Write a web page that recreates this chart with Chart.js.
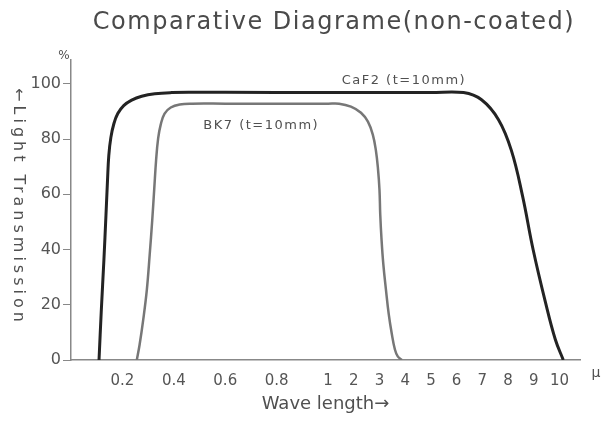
<!DOCTYPE html>
<html>
<head>
<meta charset="utf-8">
<script src="https://cdn.jsdelivr.net/npm/chart.js@4.4.0/dist/chart.umd.min.js"></script>
<style>
  html, body { margin: 0; padding: 0; background: #fff; }
  #wrap { width: 602px; height: 421px; }
</style>
</head>
<body>
<div id="wrap"><canvas id="chart" width="602" height="421"></canvas></div>
<script>
// wavelength in micrometres, transmission in %
const caf2Wave = [0.109, 0.118, 0.128, 0.136, 0.142, 0.147, 0.155, 0.167, 0.182, 0.205, 0.236, 0.275, 0.326, 0.392, 0.48, 0.6, 1, 3, 5,
  6.27, 6.97, 7.63, 8.13, 8.56, 8.98, 9.45, 9.84, 10.15];
const caf2Trans = [0, 18.2, 36.2, 52.4, 65, 74, 80.5, 85.6, 89.2, 92.1, 94.1, 95.5, 96.4, 96.8, 96.9, 96.9, 96.8, 96.8, 96.8,
  96.8, 94.2, 87, 75.9, 59.6, 39.8, 21.1, 7.4, 0];
const bk7Wave = [0.256, 0.267, 0.281, 0.295, 0.306, 0.316, 0.324, 0.331, 0.339, 0.349, 0.364, 0.388, 0.423, 0.47, 0.6, 0.8, 1,
  1.43, 1.89, 2.28, 2.55, 2.74, 2.86, 2.94, 3.0, 3.03, 3.08, 3.15, 3.25, 3.36, 3.48, 3.6, 3.71, 3.87];
const bk7Trans = [0, 5.6, 14.6, 25.4, 38, 50.6, 62.2, 72.3, 80.2, 85.2, 89.2, 91.4, 92.5, 92.8, 92.8, 92.8, 92.8,
  92.8, 91.7, 89.5, 86.3, 81.6, 75.9, 69.4, 61.6, 52.6, 43.6, 34.6, 25.6, 16.6, 9.4, 3.8, 1.3, 0];
const xTickWave = [0.2, 0.4, 0.6, 0.8, 1, 2, 3, 4, 5, 6, 7, 8, 9, 10];
const yTickValues = [0, 20, 40, 60, 80, 100];

// the axis runs in 0.1 steps up to 1 and in 1 steps after that
function axisPos(w) {
  return w <= 1 ? w * 10 : 9 + w;
}
function waveLabel(pos) {
  const w = pos <= 10 ? pos / 10 : pos - 9;
  return w < 1 ? w.toFixed(1) : String(Math.round(w));
}
const toPoints = (ws, ts) => ws.map((w, i) => ({ x: axisPos(w), y: ts[i] }));

const textPlugin = {
  id: "chartText",
  afterDraw(chart) {
    const { ctx } = chart;
    const x = chart.scales.x;
    const y = chart.scales.y;
    ctx.save();
    ctx.fillStyle = "#4a4a4a";
    ctx.textAlign = "center";
    ctx.textBaseline = "middle";

    ctx.font = '24px "DejaVu Sans"';
    ctx.letterSpacing = "1.5px";
    ctx.fillText("Comparative Diagrame(non-coated)", 334, 23);

    ctx.fillStyle = "#505050";
    ctx.font = '13px "DejaVu Sans"';
    ctx.letterSpacing = "1.5px";
    ctx.fillText("CaF2 (t=10mm)", x.getPixelForValue(axisPos(3.95)), y.getPixelForValue(101));
    ctx.fillText("BK7 (t=10mm)", x.getPixelForValue(axisPos(0.74)), y.getPixelForValue(85));

    ctx.letterSpacing = "0px";
    ctx.font = '12px "DejaVu Sans"';
    ctx.fillText("%", 64, 56);
    ctx.font = '14px "DejaVu Sans"';
    ctx.fillText("μ", 596, 373);

    ctx.save();
    ctx.translate(18, 207);
    ctx.rotate(Math.PI / 2);
    ctx.font = '16px "DejaVu Sans"';
    ctx.letterSpacing = "4px";
    ctx.fillText("←Light Transmission", 0, 0);
    ctx.restore();

    ctx.restore();
  },
};

new Chart(document.getElementById("chart"), {
  type: "line",
  data: {
    datasets: [
      {
        label: "CaF2 (t=10mm)",
        data: toPoints(caf2Wave, caf2Trans),
        borderColor: "#232323",
        borderWidth: 3,
        pointRadius: 0,
        fill: false,
        tension: 0.4,
      },
      {
        label: "BK7 (t=10mm)",
        data: toPoints(bk7Wave, bk7Trans),
        borderColor: "#777777",
        borderWidth: 2.5,
        pointRadius: 0,
        fill: false,
        tension: 0.4,
      },
    ],
  },
  options: {
    responsive: false,
    animation: false,
    layout: { padding: { top: 60, right: 22, left: 0, bottom: 0 } },
    plugins: {
      legend: { display: false },
      tooltip: { enabled: false },
    },
    scales: {
      x: {
        type: "linear",
        min: 0,
        max: 19.8,
        afterBuildTicks: (s) => {
          s.ticks = xTickWave.map((w) => ({ value: axisPos(w) }));
        },
        afterFit: (s) => {
          s.height = 61;
        },
        grid: { display: false, drawTicks: false },
        border: { color: "#888", width: 1.5 },
        ticks: {
          padding: 12,
          autoSkip: false,
          maxRotation: 0,
          color: "#555",
          font: { family: "DejaVu Sans", size: 15 },
          callback: (v) => waveLabel(v),
        },
        title: {
          display: true,
          text: "Wave length→",
          color: "#505050",
          font: { family: "DejaVu Sans", size: 18 },
          padding: { top: 0, bottom: 6 },
        },
      },
      y: {
        min: 0,
        max: 108.6,
        afterBuildTicks: (s) => {
          s.ticks = yTickValues.map((v) => ({ value: v }));
        },
        afterFit: (s) => {
          s.width = 71;
        },
        grid: { drawOnChartArea: false, drawTicks: true, tickLength: 8, color: "#888" },
        border: { color: "#888", width: 1.5 },
        ticks: {
          padding: 2,
          color: "#555",
          font: { family: "DejaVu Sans", size: 16 },
        },
      },
    },
  },
  plugins: [textPlugin],
});
</script>
</body>
</html>
